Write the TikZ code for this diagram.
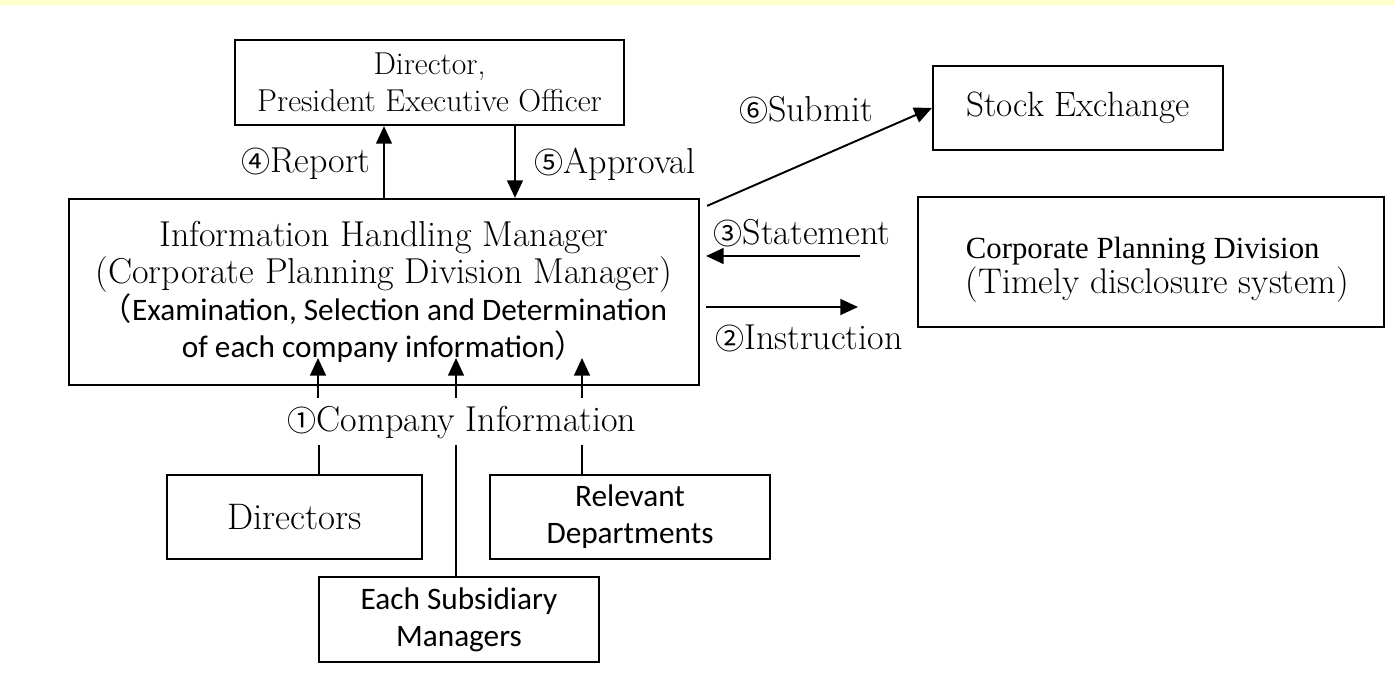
\documentclass[tikz,border=0pt]{standalone}
\usepackage{fontspec}
\usetikzlibrary{arrows.meta}
\newfontfamily\calibrifont{Carlito}
\newfontfamily\timesfont{Liberation Serif}
\newfontfamily\cjkfont{Noto Sans CJK JP}
\definecolor{bandyellow}{HTML}{FFFFCC}
\newcommand{\cnum}[1]{{\cjkfont\fontsize{16.5}{16.5}\selectfont #1}}

\begin{document}
\begin{tikzpicture}[x=0.02cm, y=-0.02cm]
  \tikzset{
    box/.style={draw, line width=1.3pt, inner sep=0pt, align=center},
    arr/.style={line width=1.1pt, -{Triangle[length=10pt, width=9pt]}},
    link/.style={line width=1.1pt},
    lbl/.style={inner sep=0pt, font=\fontsize{20.5}{22}\selectfont},
    cal/.style={font=\calibrifont\fontsize{17.8}{21}\selectfont}
  }

  % Page and band
  \useasboundingbox (0,0) rectangle (1395,688);
  \fill[bandyellow] (0,0) rectangle (1395,5);

  % Boxes
  \node[box, minimum width=7.78cm, minimum height=1.70cm,
        font=\fontsize{18}{21}\selectfont] (boss) at (429.5,82.5)
    {Director,\\President Executive Officer};
  \node[box, minimum width=12.6cm, minimum height=3.72cm,
        font=\fontsize{20.5}{21}\selectfont] (main) at (384,292)
    {Information Handling Manager\\
     (Corporate Planning Division Manager)\\
     \calibrifont\fontsize{17.8}{21}\selectfont{\cjkfont （}Examination, Selection and Determination\\
     \calibrifont\fontsize{17.8}{21}\selectfont of each company information{\cjkfont ）}};
  \node[box, minimum width=5.8cm, minimum height=1.68cm,
        font=\fontsize{20}{21}\selectfont] (stock) at (1078,108) {Stock Exchange};
  \node[box, minimum width=9.32cm, minimum height=2.6cm] (corp) at (1151,262) {};
  \node[inner sep=0pt, align=left,
        font={\fontsize{20.3}{19.6}\selectfont\lineskiplimit-20pt\relax}] (corptxt)
    at ([shift={(6.5,8)}]corp.center)
    {\timesfont\fontsize{17.5}{19.6}\selectfont Corporate Planning Division\\
     (Timely disclosure system)};
  \node[box, minimum width=5.1cm, minimum height=1.68cm,
        font=\fontsize{21}{21}\selectfont] (dirs) at (294.5,517) {Directors};
  \node[box, cal, minimum width=5.6cm, minimum height=1.68cm] (rel) at (630,517)
    {Relevant\\Departments};
  \node[box, cal, minimum width=5.6cm, minimum height=1.70cm] (subs) at (459,619.5)
    {Each Subsidiary\\Managers};

  % Labels
  \node[lbl] (lreport) at (306,164) {\cnum{④}Report};
  \node[lbl] (lapprov) at (615,164) {\cnum{⑤}Approval};
  \node[lbl] (lsubmit) at (806,110) {\cnum{⑥}Submit};
  \node[lbl] (lstate) at (802,233) {\cnum{③}Statement};
  \node[lbl] (linstr) at (809,338) {\cnum{②}Instruction};
  \node[lbl] (lcomp) at (462,423) {\cnum{①}Company Information};

  % Report / approval
  \draw[arr] (main.north) -- (main.north |- boss.south);
  \draw[arr] ([xshift=1.71cm]boss.south) -- ([xshift=1.71cm]boss.south |- main.north);

  % Submit, statement, instruction
  \draw[arr] ([shift={(7,8)}]main.north east) -- (stock.west);
  \coordinate (st) at (860,256);
  \coordinate (in) at (858,307);
  \draw[arr, shorten >=3.4pt] (st) -- (st -| main.east);
  \draw[arr, shorten <=3.4pt] (in -| main.east) -- (in);

  % Company information
  \coordinate (ca) at (318,398);
  \coordinate (cb) at (456,398);
  \coordinate (cc) at (582,398);
  \foreach \c in {ca, cb, cc}
    \draw[arr] (\c) -- ++(0,-40);
  \coordinate (da) at (319,445);
  \coordinate (db) at (456,445);
  \coordinate (dc) at (582,445);
  \draw[link] (da) -- (da |- dirs.north);
  \draw[link] (db) -- (db |- subs.north);
  \draw[link] (dc) -- (dc |- rel.north);
\end{tikzpicture}
\end{document}
